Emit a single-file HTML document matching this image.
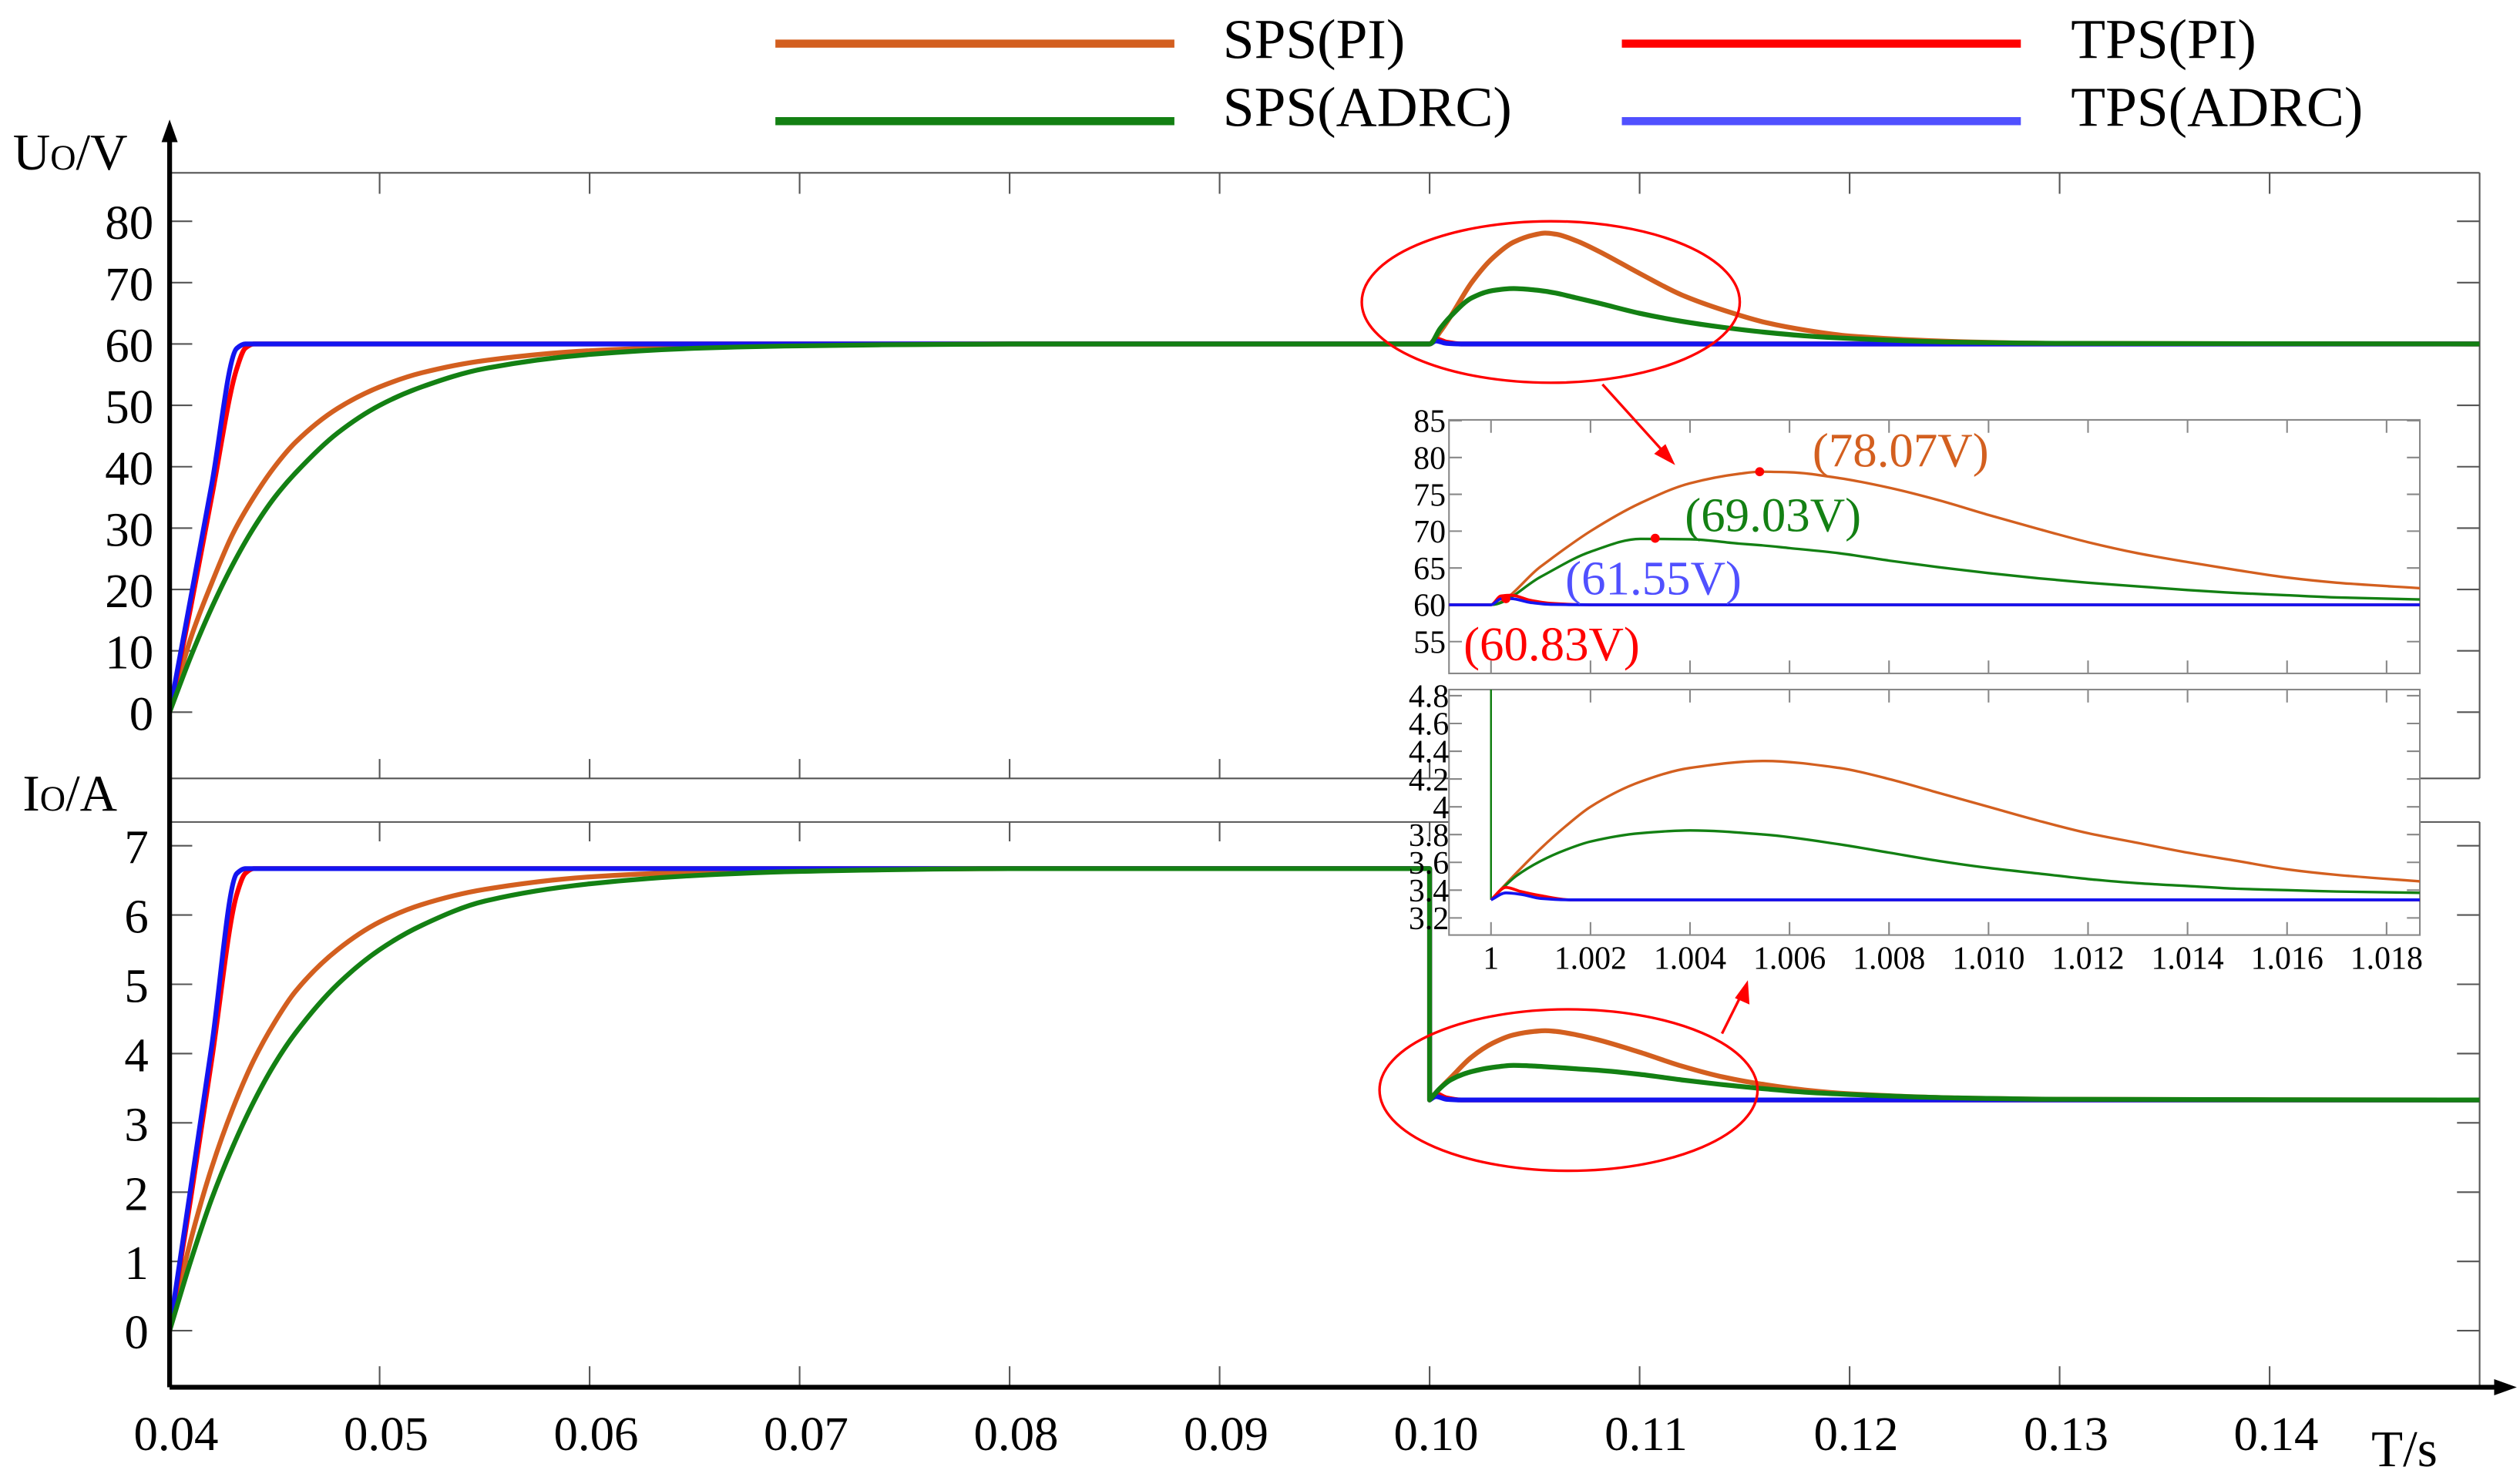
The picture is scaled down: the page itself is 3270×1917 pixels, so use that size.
<!DOCTYPE html>
<html><head><meta charset="utf-8"><style>
html,body{margin:0;padding:0;background:#fff;}
svg{display:block;}
text{font-family:"Liberation Serif",serif;}
</style></head><body>
<svg id="chart" width="3270" height="1917" viewBox="0 0 1560 914.6" preserveAspectRatio="none" xmlns="http://www.w3.org/2000/svg">
<defs>
<clipPath id="clipInV"><rect x="897" y="260" width="601" height="157"/></clipPath>
<clipPath id="clipInI"><rect x="897" y="427" width="601" height="152"/></clipPath>
</defs>
<rect x="0" y="0" width="1560" height="914.6" fill="#fff"/>
<g>
<line x1="480" y1="27" x2="727" y2="27" stroke="#d35f1f" stroke-width="5"/>
<text x="757" y="36" font-size="35">SPS(PI)</text>
<line x1="1004" y1="27" x2="1251" y2="27" stroke="#ff0000" stroke-width="5"/>
<text x="1282" y="36" font-size="35">TPS(PI)</text>
<line x1="480" y1="75" x2="727" y2="75" stroke="#138013" stroke-width="5"/>
<text x="757" y="78" font-size="35">SPS(ADRC)</text>
<line x1="1004" y1="75" x2="1251" y2="75" stroke="#5050ff" stroke-width="5"/>
<text x="1282" y="78" font-size="35">TPS(ADRC)</text>
</g>
<g id="frames" stroke="#555" stroke-width="1" fill="none">
<line x1="105" y1="107" x2="1535" y2="107"/>
<line x1="105" y1="482" x2="1535" y2="482"/>
<line x1="1535" y1="107" x2="1535" y2="482"/>
<line x1="105" y1="509" x2="1535" y2="509"/>
<line x1="1535" y1="509" x2="1535" y2="859"/>
</g>
<g id="ticks" stroke="#555" stroke-width="1"></g>
<g id="ticklabels"></g>
<g id="series"></g>
<g stroke="#000">
<line x1="105" y1="859" x2="105" y2="82" stroke-width="3"/>
<polygon points="105,74 100,88 110,88" fill="#000" stroke="none"/>
<line x1="105" y1="859" x2="1550" y2="859" stroke-width="3"/>
<polygon points="1558,859 1544,854 1544,864" fill="#000" stroke="none"/>
</g>
<text x="8" y="105" font-size="32">U<tspan font-size="22">O</tspan>/V</text>
<text x="14" y="502" font-size="32">I<tspan font-size="22">O</tspan>/A</text>
<text x="1468" y="908" font-size="32">T/s</text>
<g id="inset">
<rect x="897" y="260" width="601" height="157" fill="#fff" stroke="#888" stroke-width="1"/>
<rect x="897" y="427" width="601" height="152" fill="#fff" stroke="#888" stroke-width="1"/>
<g id="insetTicks" stroke="#888" stroke-width="1"></g>
<g id="insetLabels"></g>
<g id="insetV" clip-path="url(#clipInV)"></g>
<g id="insetI" clip-path="url(#clipInI)"></g>
<g id="insetAnn"></g>
</g>
<g fill="none" stroke="#ff0000" stroke-width="1.6">
<ellipse cx="960" cy="187" rx="117" ry="50"/>
<ellipse cx="971" cy="675" rx="117" ry="50"/>
<line x1="992" y1="238" x2="1030" y2="280"/>
<polygon points="1037,288 1024,281 1031,275" fill="#ff0000" stroke="none"/>
<line x1="1066" y1="640" x2="1078" y2="616"/>
<polygon points="1082,607 1083,622 1074,618" fill="#ff0000" stroke="none"/>
</g>
</svg>
<script>
// ---- main chart data ----
const xTicks = [0.04,0.05,0.06,0.07,0.08,0.09,0.10,0.11,0.12,0.13,0.14];
const xTickLabels = ["0.04","0.05","0.06","0.07","0.08","0.09","0.10","0.11","0.12","0.13","0.14"];
const vTicks = [80,70,60,50,40,30,20,10,0];
const iTicks = [7,6,5,4,3,2,1,0];
const tSps = [0.04,0.041,0.042,0.043,0.044,0.045,0.046,0.048,0.05,0.052,0.055,0.06,0.065,0.07,0.08,0.1,0.1005,0.101,0.102,0.103,0.104,0.105,0.1055,0.106,0.107,0.108,0.11,0.112,0.114,0.116,0.118,0.12,0.125,0.13,0.15];
const vSpsPI = [0,12,21,29,35,40,44,49.5,53,55.3,57.3,58.9,59.5,59.8,60,60,62,64.5,70,74,76.6,77.8,78.07,77.9,76.8,75.2,71.5,68,65.5,63.5,62.2,61.3,60.4,60.1,60];
const vSpsADRC = [0,9,17,24,30,35,39,45.5,50,53,56,58.3,59.3,59.7,60,60,62.5,64.5,67.5,68.7,69.03,68.8,68.6,68.3,67.5,66.7,65,63.7,62.7,61.9,61.3,60.9,60.3,60.1,60];
const tTps = [0.04,0.041,0.042,0.0432,0.0436,0.044,0.1,0.1003,0.1008,0.1015,0.15];
const vTpsPI = [0,17,35,56,59.3,60,60,60.83,60.3,60,60];
const vTpsADRC = [0,18.5,37,59.3,60,60,60,60.5,60.1,60,60];
const tSpsI = [0.04,0.041,0.042,0.043,0.044,0.045,0.046,0.048,0.05,0.052,0.055,0.06,0.065,0.07,0.08,0.1,0.1,0.1005,0.101,0.102,0.103,0.104,0.105,0.1055,0.106,0.107,0.108,0.11,0.112,0.114,0.116,0.118,0.12,0.125,0.13,0.15];
const iSpsPI = [0,1.3,2.35,3.2,3.9,4.45,4.9,5.5,5.9,6.15,6.37,6.55,6.62,6.65,6.67,6.67,3.33,3.5,3.65,3.95,4.15,4.27,4.32,4.33,4.32,4.27,4.2,4.02,3.82,3.66,3.55,3.47,3.42,3.36,3.34,3.33];
const iSpsADRC = [0,1.0,1.9,2.65,3.3,3.85,4.3,5.0,5.5,5.85,6.2,6.45,6.57,6.63,6.67,6.67,3.33,3.5,3.62,3.74,3.8,3.83,3.82,3.81,3.8,3.78,3.76,3.7,3.62,3.55,3.49,3.44,3.41,3.36,3.34,3.33];
const tTpsI = [0.04,0.041,0.042,0.0432,0.0436,0.044,0.1,0.1,0.1003,0.1008,0.1015,0.15];
const iTpsPI = [0,1.9,3.9,6.3,6.6,6.67,6.67,3.33,3.42,3.36,3.33,3.33];
const iTpsADRC = [0,2.05,4.1,6.6,6.67,6.67,6.67,3.33,3.38,3.34,3.33,3.33];
// ---- inset data ----
const inXTicks = [1,1.002,1.004,1.006,1.008,1.010,1.012,1.014,1.016,1.018];
const inXTickLabels = ["1","1.002","1.004","1.006","1.008","1.010","1.012","1.014","1.016","1.018"];
const inVTicks = [85,80,75,70,65,60,55];
const inITicks = [4.8,4.6,4.4,4.2,4,3.8,3.6,3.4,3.2];
const inITickLabels = ["4.8","4.6","4.4","4.2","4","3.8","3.6","3.4","3.2"];
const tInV = [0.999,1,1.001,1.002,1.003,1.004,1.005,1.0054,1.006,1.007,1.008,1.009,1.010,1.011,1.012,1.013,1.014,1.015,1.016,1.017,1.0188];
const inVSpsPI = [60,60,65.2,70,73.8,76.5,77.8,78.07,78,77.2,75.9,74.2,72.2,70.3,68.5,67,65.8,64.7,63.7,63,62.2];
const inVSpsADRC = [60,60,63.8,67.2,68.95,68.9,68.3,68.1,67.7,67,66,65.1,64.3,63.6,63,62.5,62,61.6,61.3,61,60.7];
const tInTps = [0.999,1,1.0002,1.0004,1.0008,1.0012,1.002,1.0188];
const inVTpsPI = [60,60,61.2,61.3,60.6,60.2,60,60];
const inVTpsADRC = [60,60,60.8,60.83,60.3,60.05,60,60];
const tInI = [1,1.0005,1.001,1.0015,1.002,1.003,1.004,1.0055,1.007,1.008,1.009,1.010,1.011,1.012,1.013,1.014,1.015,1.016,1.017,1.0188];
const inISpsPI = [3.33,3.52,3.7,3.86,4.0,4.18,4.28,4.33,4.28,4.2,4.1,4.0,3.9,3.81,3.74,3.67,3.61,3.55,3.51,3.46];
const inISpsADRC = [3.33,3.5,3.61,3.69,3.75,3.81,3.83,3.8,3.73,3.67,3.61,3.56,3.52,3.48,3.45,3.43,3.41,3.4,3.39,3.38];
const tInStep = [1,1];
const inIStep = [6.67,3.33];
const tInTpsI = [1,1.0003,1.0006,1.001,1.0016,1.0188];
const inITpsPI = [3.33,3.42,3.39,3.36,3.33,3.33];
const inITpsADRC = [3.33,3.38,3.37,3.34,3.33,3.33];
const peakT = [1.0054,1.0033,1.0003];
const peakV = [78.07,69.03,60.83];

const NS = "http://www.w3.org/2000/svg";
const X = t => 105 + (t - 0.04) * 13000;
const YV = v => 441 - v * 3.8;
const YI = i => 824 - i * 42.9;
const XI = t => 923 + (t - 1) * 30800;
const YIV = v => 260.5 + (85 - v) * 4.56;
const YII = i => 430.8 + (4.8 - i) * 86;
const C = {spsPI:"#d35f1f", spsADRC:"#138013", tpsPI:"#ff0000", tpsADRC:"#1414f0"};

function mk(tag, parent, attrs) {
  const el = document.createElementNS(NS, tag);
  for (const k in attrs) el.setAttribute(k, attrs[k]);
  parent.appendChild(el);
  return el;
}
// monotone cubic (Fritsch-Carlson) path; duplicate x values become straight vertical steps
function runPath(P) {
  const n = P.length;
  if (n < 2) return "";
  const h = [], d = [];
  for (let k = 0; k < n - 1; k++) { h.push(P[k+1][0] - P[k][0]); d.push((P[k+1][1] - P[k][1]) / h[k]); }
  const m = new Array(n);
  m[0] = d[0]; m[n-1] = d[n-2];
  for (let k = 1; k < n - 1; k++) {
    if (d[k-1] * d[k] <= 0) m[k] = 0;
    else {
      const w1 = 2*h[k] + h[k-1], w2 = h[k] + 2*h[k-1];
      m[k] = (w1 + w2) / (w1 / d[k-1] + w2 / d[k]);
    }
  }
  let s = "";
  for (let k = 0; k < n - 1; k++) {
    const c1x = P[k][0] + h[k]/3, c1y = P[k][1] + m[k]*h[k]/3;
    const c2x = P[k+1][0] - h[k]/3, c2y = P[k+1][1] - m[k+1]*h[k]/3;
    s += " C" + c1x.toFixed(2) + "," + c1y.toFixed(2) + " " + c2x.toFixed(2) + "," + c2y.toFixed(2) + " " + P[k+1][0].toFixed(2) + "," + P[k+1][1].toFixed(2);
  }
  return s;
}
function smoothPath(ts, vs, fx, fy) {
  const P = ts.map((t, k) => [fx(t), fy(vs[k])]);
  let d = "M" + P[0][0].toFixed(2) + "," + P[0][1].toFixed(2);
  let run = [P[0]];
  for (let i = 1; i < P.length; i++) {
    if (Math.abs(P[i][0] - P[i-1][0]) < 0.01) {
      d += runPath(run);
      d += " L" + P[i][0].toFixed(2) + "," + P[i][1].toFixed(2);
      run = [P[i]];
    } else run.push(P[i]);
  }
  d += runPath(run);
  return d;
}
function series(parent, ts, vs, fx, fy, color, w, name) {
  const el = mk("path", parent, {d: smoothPath(ts, vs, fx, fy), fill: "none", stroke: color, "stroke-width": w, "stroke-linejoin": "round"});
  
  
  return el;
}
function txt(parent, x, y, s, size, anchor, color, name) {
  const el = mk("text", parent, {x: x, y: y, "font-size": size, "text-anchor": anchor, fill: color});
  el.textContent = s;
  
  
  return el;
}
function tick(parent, x1, y1, x2, y2, name) {
  const el = mk("line", parent, {x1: x1, y1: y1, x2: x2, y2: y2});
  
  
}

const gT = document.getElementById("ticks"), gL = document.getElementById("ticklabels"), gS = document.getElementById("series");
xTicks.forEach((t, k) => {
  const x = X(t);
  if (k > 0) {
    tick(gT, x, 107, x, 120, "upper-top-x-tick");
    tick(gT, x, 470, x, 482, "upper-bottom-x-tick");
    tick(gT, x, 509, x, 521, "lower-top-x-tick");
    tick(gT, x, 846, x, 859, "lower-bottom-x-tick");
  }
  txt(gL, x + 4, 898, xTickLabels[k], 30, "middle", "#000", "x-tick-label");
});
vTicks.forEach(v => {
  tick(gT, 105, YV(v), 119, YV(v), "upper-y-tick");
  tick(gT, 1521, YV(v), 1535, YV(v), "upper-right-y-tick");
  txt(gL, 95, YV(v) + 11, String(v), 30, "end", "#000", "upper-y-tick-label");
});
iTicks.forEach(i => {
  tick(gT, 105, YI(i), 119, YI(i), "lower-y-tick");
  tick(gT, 1521, YI(i), 1535, YI(i), "lower-right-y-tick");
  txt(gL, 92, YI(i) + 11, String(i), 30, "end", "#000", "lower-y-tick-label");
});

series(gS, tSps, vSpsPI, X, YV, C.spsPI, 3, "voltage-sps-pi-line");
series(gS, tTps, vTpsPI, X, YV, C.tpsPI, 3, "voltage-tps-pi-line");
series(gS, tTps, vTpsADRC, X, YV, C.tpsADRC, 3, "voltage-tps-adrc-line");
series(gS, tSps, vSpsADRC, X, YV, C.spsADRC, 3, "voltage-sps-adrc-line");
series(gS, tSpsI, iSpsPI, X, YI, C.spsPI, 3, "current-sps-pi-line");
series(gS, tTpsI, iTpsPI, X, YI, C.tpsPI, 3, "current-tps-pi-line");
series(gS, tTpsI, iTpsADRC, X, YI, C.tpsADRC, 3, "current-tps-adrc-line");
series(gS, tSpsI, iSpsADRC, X, YI, C.spsADRC, 3, "current-sps-adrc-line");

// inset
const gIT = document.getElementById("insetTicks"), gIL = document.getElementById("insetLabels");
const gIV = document.getElementById("insetV"), gII = document.getElementById("insetI"), gIA = document.getElementById("insetAnn");
inXTicks.forEach((t, k) => {
  const x = XI(t);
  tick(gIT, x, 260, x, 268, "inset-voltage-top-tick");
  tick(gIT, x, 409, x, 417, "inset-voltage-bottom-tick");
  tick(gIT, x, 427, x, 435, "inset-current-top-tick");
  tick(gIT, x, 571, x, 579, "inset-current-bottom-tick");
  txt(gIL, x, 600, inXTickLabels[k], 20, "middle", "#000", "inset-x-tick-label");
});
inVTicks.forEach(v => {
  tick(gIT, 897, YIV(v), 905, YIV(v), "inset-voltage-y-tick");
  tick(gIT, 1490, YIV(v), 1498, YIV(v), "inset-voltage-right-tick");
  txt(gIL, 895, YIV(v) + 7, String(v), 20, "end", "#000", "inset-voltage-tick-label");
});
inITicks.forEach((i, k) => {
  tick(gIT, 897, YII(i), 905, YII(i), "inset-current-y-tick");
  tick(gIT, 1490, YII(i), 1498, YII(i), "inset-current-right-tick");
  txt(gIL, 897, YII(i) + 7, inITickLabels[k], 20, "end", "#000", "inset-current-tick-label");
});
series(gIV, tInV, inVSpsPI, XI, YIV, C.spsPI, 1.6, "inset-voltage-sps-pi-line");
series(gIV, tInV, inVSpsADRC, XI, YIV, C.spsADRC, 1.6, "inset-voltage-sps-adrc-line");
series(gIV, tInTps, inVTpsPI, XI, YIV, C.tpsPI, 1.8, "inset-voltage-tps-pi-line");
series(gIV, tInTps, inVTpsADRC, XI, YIV, C.tpsADRC, 1.8, "inset-voltage-tps-adrc-line");
series(gII, tInI, inISpsPI, XI, YII, C.spsPI, 1.6, "inset-current-sps-pi-line");
series(gII, tInI, inISpsADRC, XI, YII, C.spsADRC, 1.6, "inset-current-sps-adrc-line");
series(gII, tInStep, inIStep, XI, YII, C.spsADRC, 1.2, "inset-current-step-line");
series(gII, tInTpsI, inITpsPI, XI, YII, C.tpsPI, 1.8, "inset-current-tps-pi-line");
series(gII, tInTpsI, inITpsADRC, XI, YII, C.tpsADRC, 1.8, "inset-current-tps-adrc-line");
peakT.forEach((t, k) => {
  const d = mk("circle", gIA, {cx: XI(t), cy: YIV(peakV[k]), r: 2.8, fill: "#ff0000"});
  
  
});
txt(gIA, 1122, 289, "(78.07V)", 30, "start", C.spsPI, "peak-label-sps-pi");
txt(gIA, 1043, 329, "(69.03V)", 30, "start", C.spsADRC, "peak-label-sps-adrc");
txt(gIA, 969, 368, "(61.55V)", 30, "start", "#5050ff", "peak-label-tps-adrc");
txt(gIA, 906, 409, "(60.83V)", 30, "start", "#ff0000", "peak-label-tps-pi");
</script>
</body></html>
